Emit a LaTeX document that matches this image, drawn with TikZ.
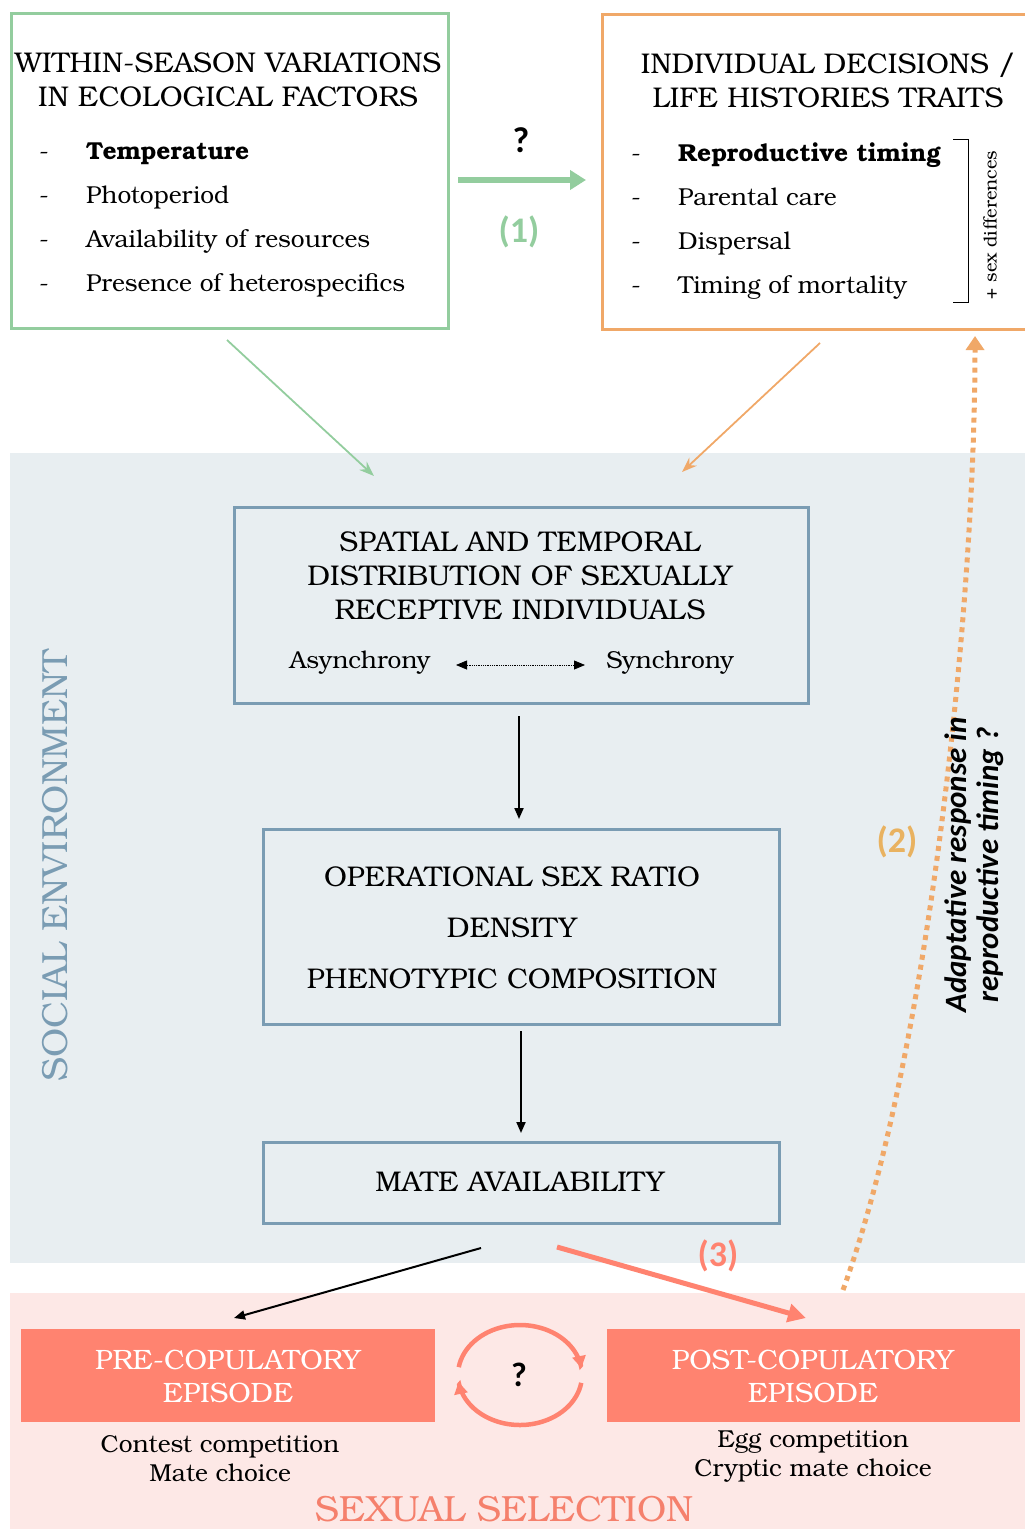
\documentclass[tikz,border=0pt]{standalone}
\usepackage{fontspec}
\setmainfont{TeX Gyre Bonum}
\newfontfamily\calib{Carlito}
\usetikzlibrary{arrows.meta}
\definecolor{cgreen}{RGB}{147,205,158}
\definecolor{corange}{RGB}{240,168,104}
\definecolor{cgold}{RGB}{233,178,96}
\definecolor{socbg}{RGB}{232,238,241}
\definecolor{socline}{RGB}{122,156,179}
\definecolor{sexbg}{RGB}{253,232,230}
\definecolor{salmon}{RGB}{255,131,112}
\definecolor{salmontext}{RGB}{245,128,108}
\tikzset{
  titletext/.style={align=center, font=\fontsize{28.5}{34}\selectfont, inner sep=0},
  bigcaps/.style={font=\fontsize{28.5}{34}\selectfont, inner sep=0},
  bullettext/.style={anchor=west, font=\fontsize{24.5}{28}\selectfont, text height=17, text depth=5, inner sep=0},
  dashmark/.style={font=\fontsize{24.5}{28}\selectfont, text height=17, text depth=5, inner sep=0},
  smalltext/.style={font=\fontsize{24.5}{29}\selectfont, inner sep=0, align=center},
  numlabel/.style={font=\calib\bfseries\fontsize{36}{40}\selectfont, inner sep=0},
  bluebox/.style={draw=socline, line width=3pt, inner sep=0, anchor=north west},
  salmonbox/.style={fill=salmon, inner sep=0, anchor=north west},
  whitecaps/.style={text=white, align=center, font=\fontsize{28}{33}\selectfont, inner sep=0},
  thinarrow/.style={line width=1.8pt, -{Stealth[length=15pt,width=11pt]}},
  blackarrow/.style={line width=2pt, -{Triangle[length=11pt,width=9pt]}},
}
\begin{document}
\begin{tikzpicture}[x=1pt,y=-1pt]
\useasboundingbox (0,0) rectangle (1025,1529);
% backgrounds
\fill[socbg] (10,453) rectangle (1025,1263);
\fill[sexbg] (10,1293) rectangle (1025,1529);

% top-left box
\node[draw=cgreen, line width=2.6pt, minimum width=437, minimum height=315, anchor=north west, inner sep=0] (eco) at (10,12) {};
\node[titletext] (ecotitle) at (228,80) {WITHIN-SEASON VARIATIONS\\IN ECOLOGICAL FACTORS};
\foreach \yy/\txt [count=\i] in {153/{\textbf{Temperature}},197/{Photoperiod},241/{Availability of resources},285/{Presence of heterospecifics}}{
  \node[dashmark] (ed\i) at (44,\yy) {-};
  \node[bullettext] (e\i) at (86,\yy) {\txt};
}

% top-right box
\node[draw=corange, line width=2.6pt, minimum width=440, minimum height=315, anchor=north west, inner sep=0] (ind) at (601,13) {};
\node[titletext] (indtitle) at (828,80) {INDIVIDUAL DECISIONS /\\LIFE HISTORIES TRAITS};
\foreach \yy/\txt [count=\i] in {155/{\textbf{Reproductive timing}},199/{Parental care},243/{Dispersal},287/{Timing of mortality}}{
  \node[dashmark] (id\i) at (636,\yy) {-};
  \node[bullettext] (i\i) at (678,\yy) {\txt};
}
\draw[line width=1pt] (953,139) -- (968,139) -- (968,302) -- (953,302);
\node[rotate=90, font=\fontsize{18.2}{20}\selectfont, inner sep=0] (sexdiff) at (990,225) {+ sex differences};

% arrow (1)
\coordinate (g1) at (458,180);
\coordinate (g2) at (586,180);
\draw[cgreen, line width=6pt, -{Triangle[length=16pt,width=19pt]}] (g1) -- (g2);
\node[font=\calib\bfseries\fontsize{36}{40}\selectfont, inner sep=0] (q1) at (521,140) {?};
\node[numlabel, text=cgreen] (n1) at (519,232) {(1)};

% thin arrows into social environment
\coordinate (ga) at (227,340);
\coordinate (gb) at (374,476);
\draw[cgreen, thinarrow] (ga) -- (gb);
\coordinate (oa) at (820,343);
\coordinate (ob) at (682,472);
\draw[corange, thinarrow] (oa) -- (ob);

% social environment label
\node[rotate=90, text=socline, font=\fontsize{36.3}{40}\selectfont, inner sep=0] (soc) at (55,866) {SOCIAL ENVIRONMENT};

% box 1
\node[bluebox, minimum width=574, minimum height=196] (b1) at (233,506) {};
\node[titletext] (b1t) at (520,576) {SPATIAL AND TEMPORAL\\DISTRIBUTION OF SEXUALLY\\RECEPTIVE INDIVIDUALS};
\node[smalltext] (asyn) at (360,663) {Asynchrony};
\node[smalltext] (syn) at (670,663) {Synchrony};
\coordinate (da) at (456,665);
\coordinate (db) at (585,665);
\draw[densely dotted, line width=0.8pt, {Triangle[length=11pt,width=9pt]}-{Triangle[length=11pt,width=9pt]}] (da) -- (db);

% box 2
\node[bluebox, minimum width=516, minimum height=195] (b2) at (262,828) {};
\node[bigcaps] (b2a) at (512,877) {OPERATIONAL SEX RATIO};
\node[bigcaps] (b2b) at (512,928) {DENSITY};
\node[bigcaps] (b2c) at (512,979) {PHENOTYPIC COMPOSITION};

% box 3
\node[bluebox, minimum width=516, minimum height=81] (b3) at (262,1141) {};
\node[bigcaps] (b3t) at (520,1182) {MATE AVAILABILITY};

\coordinate (v1a) at (519,716);
\coordinate (v1b) at (519,819);
\coordinate (v2a) at (521,1031);
\coordinate (v2b) at (521,1133);
\draw[blackarrow] (v1a) -- (v1b);
\draw[blackarrow] (v2a) -- (v2b);

% sexual selection
\node[salmonbox, minimum width=414, minimum height=93] (pre) at (21,1329) {};
\node[whitecaps] (pret) at (228,1376) {PRE-COPULATORY\\EPISODE};
\node[salmonbox, minimum width=413, minimum height=93] (post) at (607,1329) {};
\node[whitecaps] (postt) at (813,1376) {POST-COPULATORY\\EPISODE};

\node[smalltext] (pred) at (220,1459) {Contest competition\\Mate choice};
\node[smalltext] (postd) at (813,1456) {Egg competition\\Cryptic mate choice};
\node[text=salmontext, font=\fontsize{36.4}{40}\selectfont, inner sep=0] (sexsel) at (504,1509) {SEXUAL SELECTION};

\coordinate (ma) at (481,1248);
\coordinate (mb) at (234,1318);
\draw[blackarrow] (ma) -- (mb);
\coordinate (sa) at (557,1247);
\coordinate (sb) at (806,1318);
\draw[salmon, line width=5pt, -{Triangle[length=18pt,width=18pt]}] (sa) -- (sb);
\node[numlabel, text=salmon] (n3) at (718,1256) {(3)};

% cycle
\begin{scope}[shift={(520,1375)}]
\draw[salmon, line width=4.5pt, -{Triangle[length=12pt,width=13pt]}] plot[smooth, domain=189:352, samples=40] ({62*cos(\x)},{50*sin(\x)});
\draw[salmon, line width=4.5pt, -{Triangle[length=12pt,width=13pt]}] plot[smooth, domain=9:172, samples=40] ({62*cos(\x)},{50*sin(\x)});
\end{scope}
\node[font=\calib\bfseries\fontsize{34}{40}\selectfont, inner sep=0] (q2) at (519,1375) {?};

% adaptive response curve
\coordinate (ca) at (843,1290);
\coordinate (cb) at (975,336);
\draw[corange, line width=5pt, dash pattern=on 5pt off 5pt, -{Triangle[length=14pt,width=18pt]}] (ca) .. controls (930,1050) and (975,600) .. (cb);
\node[numlabel, text=cgold] (n2) at (897,842) {(2)};
\node[rotate=90, align=center, font=\calib\bfseries\itshape\fontsize{31}{32}\selectfont, inner sep=0] (adapt) at (974,865) {Adaptative response in\\reproductive timing ?};
\end{tikzpicture}
\end{document}
